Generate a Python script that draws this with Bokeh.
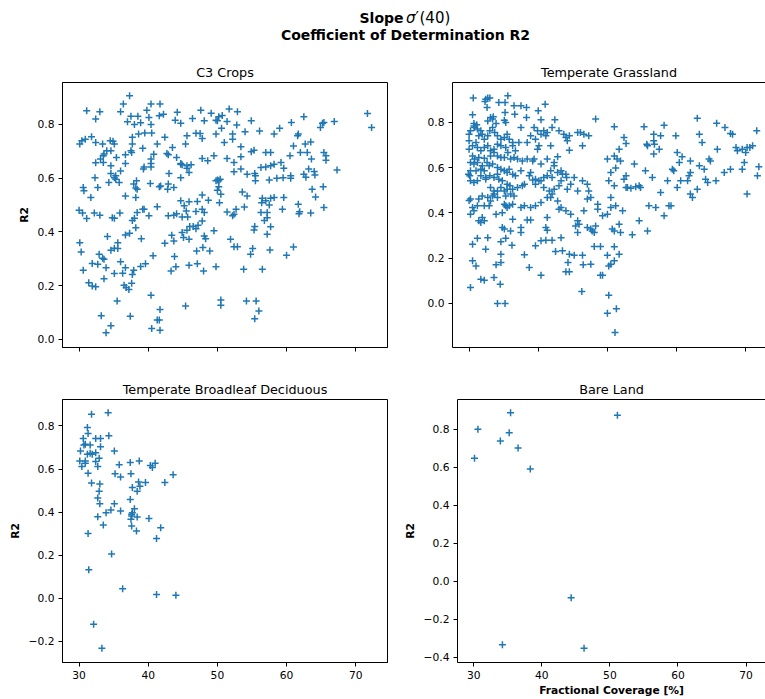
from bokeh.plotting import figure
from bokeh.layouts import column, row
from bokeh.models import Range1d, FixedTicker, CustomJSTickFormatter, LinearAxis
from bokeh.core.properties import value
from bokeh.embed import file_html
from bokeh.resources import INLINE

FONT = "DejaVu Sans"
BLUE = "#1f77b4"

# ---------------- data ----------------
x_ticks = [30, 40, 50, 60, 70]
y_ticks_c3 = [0.0, 0.2, 0.4, 0.6, 0.8]
y_ticks_grass = [0.0, 0.2, 0.4, 0.6, 0.8]
y_ticks_broad = [-0.2, 0.0, 0.2, 0.4, 0.6, 0.8]
y_ticks_bare = [-0.4, -0.2, 0.0, 0.2, 0.4, 0.6, 0.8]

panel_titles = ["C3 Crops", "Temperate Grassland", "Temperate Broadleaf Deciduous", "Bare Land"]

c3_points = [
    (37.3, 0.907), (36.4, 0.876), (40.4, 0.876), (41.7, 0.876), (31.1, 0.851), (33.0, 0.847), (36.0, 0.847),
    (32.4, 0.82), (37.5, 0.83), (38.5, 0.83), (37.0, 0.81), (38.0, 0.80), (38.9, 0.806), (39.8, 0.853),
    (40.1, 0.826), (40.4, 0.80), (41.6, 0.832), (42.2, 0.838), (44.2, 0.845), (43.9, 0.816), (44.7, 0.804),
    (46.4, 0.822), (47.6, 0.853), (48.1, 0.814), (49.1, 0.842), (49.8, 0.816), (50.2, 0.829), (50.7, 0.833),
    (50.0, 0.814), (51.7, 0.857), (52.9, 0.847), (51.4, 0.811), (52.8, 0.798), (50.6, 0.786), (54.9, 0.814),
    (56.1, 0.776), (54.0, 0.773), (49.8, 0.764), (52.2, 0.764), (52.2, 0.745), (51.0, 0.733), (46.9, 0.767),
    (47.5, 0.766), (47.8, 0.748), (45.6, 0.758), (45.4, 0.727), (43.5, 0.714), (42.4, 0.752), (41.3, 0.727),
    (40.5, 0.768), (39.5, 0.768), (38.6, 0.764), (37.7, 0.752), (37.7, 0.727), (37.5, 0.702), (34.9, 0.737),
    (34.5, 0.739), (35.1, 0.727), (33.4, 0.727), (32.4, 0.733), (31.8, 0.754), (30.1, 0.727), (30.4, 0.739),
    (30.9, 0.745), (34.0, 0.702), (34.6, 0.702), (33.5, 0.683), (33.6, 0.690), (33.1, 0.671), (32.4, 0.657),
    (33.5, 0.658), (35.4, 0.677), (36.7, 0.687), (37.6, 0.696), (36.7, 0.655), (39.2, 0.711), (40.8, 0.689),
    (40.4, 0.671), (40.4, 0.655), (42.7, 0.692), (42.9, 0.687), (44.1, 0.677), (44.7, 0.655), (44.9, 0.65),
    (45.6, 0.637), (45.9, 0.621), (47.8, 0.673), (48.6, 0.665), (49.5, 0.683), (51.4, 0.673), (52.4, 0.658),
    (53.4, 0.68), (53.4, 0.717), (54.9, 0.698), (55.3, 0.704), (57.0, 0.696), (57.7, 0.696), (52.4, 0.624),
    (53.4, 0.634), (54.3, 0.615), (55.4, 0.617), (55.5, 0.609), (55.5, 0.59), (56.3, 0.64), (57.0, 0.642),
    (57.7, 0.646), (58.2, 0.652), (59.2, 0.658), (59.6, 0.637), (57.5, 0.593), (58.6, 0.60), (59.5, 0.602),
    (60.6, 0.60), (60.6, 0.609), (60.5, 0.683), (61.0, 0.72), (61.6, 0.758), (61.7, 0.764), (62.0, 0.696),
    (63.0, 0.696), (62.7, 0.727), (63.5, 0.735), (62.5, 0.829), (60.7, 0.807), (59.0, 0.786), (58.2, 0.764),
    (63.6, 0.671), (63.2, 0.634), (62.5, 0.615), (62.8, 0.603), (64.0, 0.625), (64.1, 0.612), (65.4, 0.696),
    (65.7, 0.683), (65.7, 0.667), (67.3, 0.63), (65.2, 0.804), (65.4, 0.807), (64.9, 0.789), (66.9, 0.811),
    (71.7, 0.841), (72.3, 0.789), (56.5, 0.525), (56.4, 0.509), (57.0, 0.516), (57.7, 0.525), (58.2, 0.528),
    (57.5, 0.50), (59.6, 0.528), (59.4, 0.484), (57.2, 0.453), (56.8, 0.443), (57.7, 0.419), (57.2, 0.391),
    (56.3, 0.472), (57.2, 0.472), (53.6, 0.549), (54.3, 0.534), (53.9, 0.493), (52.7, 0.484), (52.4, 0.466),
    (52.2, 0.46), (51.4, 0.474), (50.5, 0.54), (50.2, 0.568), (50.0, 0.555), (50.2, 0.59), (50.0, 0.593),
    (49.8, 0.59), (50.4, 0.596), (50.3, 0.509), (48.7, 0.518), (47.8, 0.537), (47.1, 0.513), (48.1, 0.472),
    (47.8, 0.441), (48.1, 0.385), (48.3, 0.375), (49.5, 0.404), (47.0, 0.329), (47.9, 0.342), (48.9, 0.329),
    (51.9, 0.373), (52.4, 0.345), (52.9, 0.345), (54.8, 0.317), (55.1, 0.338), (57.6, 0.333), (60.0, 0.313),
    (61.0, 0.344), (61.7, 0.503), (61.9, 0.475), (61.8, 0.468), (63.5, 0.47), (63.7, 0.559), (64.2, 0.53),
    (65.3, 0.568), (65.4, 0.491), (55.4, 0.42), (55.3, 0.407), (53.8, 0.261), (56.5, 0.261), (54.2, 0.143),
    (55.6, 0.143), (56.0, 0.106), (55.4, 0.077), (50.5, 0.147), (50.5, 0.127), (45.4, 0.124), (49.8, 0.27),
    (47.1, 0.282), (45.9, 0.276), (48.0, 0.255), (44.0, 0.27), (43.8, 0.309), (43.3, 0.255), (42.4, 0.358),
    (43.4, 0.388), (43.7, 0.366), (44.9, 0.398), (45.1, 0.379), (45.9, 0.373), (46.0, 0.42), (46.5, 0.42),
    (46.9, 0.412), (45.6, 0.406), (47.2, 0.425), (45.7, 0.456), (44.9, 0.456), (44.1, 0.468), (43.7, 0.462),
    (42.9, 0.46), (44.7, 0.516), (45.2, 0.497), (45.5, 0.478), (45.9, 0.512), (46.9, 0.476), (47.8, 0.484),
    (41.3, 0.494), (40.1, 0.46), (39.2, 0.484), (37.7, 0.443), (38.0, 0.451), (38.4, 0.472), (38.2, 0.416),
    (36.7, 0.389), (37.3, 0.395), (39.0, 0.375), (40.7, 0.311), (40.4, 0.164), (41.7, 0.111), (41.3, 0.072),
    (41.6, 0.072), (40.5, 0.041), (41.7, 0.034), (37.4, 0.086), (35.5, 0.143), (33.2, 0.088), (34.6, 0.051),
    (33.9, 0.025), (36.8, 0.193), (37.6, 0.209), (37.2, 0.186), (36.5, 0.202), (33.6, 0.226), (35.1, 0.245),
    (36.3, 0.246), (37.7, 0.242), (37.9, 0.257), (38.9, 0.271), (39.6, 0.282), (36.0, 0.289), (36.7, 0.267),
    (34.6, 0.332), (35.1, 0.339), (35.6, 0.36), (35.6, 0.338), (34.1, 0.383), (32.9, 0.317), (33.4, 0.302),
    (33.6, 0.298), (32.7, 0.28), (31.9, 0.283), (33.9, 0.267), (30.6, 0.257), (31.4, 0.211), (31.9, 0.199),
    (32.4, 0.196), (30.1, 0.36), (30.3, 0.325), (30.0, 0.481), (30.5, 0.47), (31.1, 0.45), (32.2, 0.47),
    (33.0, 0.462), (34.8, 0.453), (35.1, 0.451), (35.9, 0.47), (30.6, 0.565), (30.7, 0.553), (31.7, 0.528),
    (32.7, 0.565), (32.3, 0.602), (34.3, 0.584), (35.1, 0.602), (35.3, 0.609), (35.8, 0.584), (35.3, 0.596),
    (34.6, 0.646), (34.6, 0.617), (36.0, 0.627), (37.9, 0.578), (38.2, 0.563), (38.4, 0.559), (38.3, 0.59),
    (36.7, 0.534), (38.2, 0.528), (39.4, 0.484), (40.3, 0.58), (41.6, 0.568), (41.8, 0.571), (42.8, 0.559),
    (43.7, 0.565), (42.9, 0.578), (43.0, 0.617), (39.3, 0.634), (39.4, 0.642), (40.4, 0.642), (44.7, 0.652),
    (45.6, 0.646), (44.7, 0.602), (46.2, 0.65),
]

grass_points = [
    (30.6, 0.908), (32.4, 0.903), (32.7, 0.908), (33.0, 0.908), (32.3, 0.893), (34.3, 0.889), (35.2, 0.889),
    (35.6, 0.918), (32.6, 0.866), (36.5, 0.874), (37.5, 0.874), (38.3, 0.866), (35.2, 0.844), (36.6, 0.837),
    (41.0, 0.881), (40.0, 0.852), (30.5, 0.834), (30.7, 0.796), (31.1, 0.79), (30.7, 0.785), (33.1, 0.822),
    (33.5, 0.825), (33.4, 0.815), (32.7, 0.807), (33.9, 0.796), (35.1, 0.81), (35.3, 0.80), (38.3, 0.822),
    (40.4, 0.812), (42.4, 0.812), (48.3, 0.815), (51.0, 0.781), (55.3, 0.781), (58.2, 0.788), (63.0, 0.819),
    (65.8, 0.797), (67.0, 0.778), (67.8, 0.751), (71.6, 0.763), (30.0, 0.748), (30.2, 0.763), (30.8, 0.778),
    (31.2, 0.771), (31.7, 0.763), (31.9, 0.748), (31.4, 0.741), (32.2, 0.726), (32.7, 0.741), (33.0, 0.763),
    (33.4, 0.778), (33.7, 0.756), (34.1, 0.741), (34.6, 0.726), (35.1, 0.734), (35.5, 0.748), (35.8, 0.726),
    (36.3, 0.711), (30.0, 0.719), (30.0, 0.682), (30.5, 0.697), (31.0, 0.711), (31.2, 0.689), (31.7, 0.675),
    (32.2, 0.689), (32.7, 0.697), (33.1, 0.675), (33.6, 0.682), (34.1, 0.704), (34.6, 0.697), (35.3, 0.689),
    (35.6, 0.667), (36.3, 0.697), (36.7, 0.675), (37.2, 0.711), (37.5, 0.778), (38.4, 0.711), (38.9, 0.741),
    (39.4, 0.778), (39.9, 0.763), (39.6, 0.726), (40.4, 0.748), (40.8, 0.763), (41.3, 0.756), (41.1, 0.741),
    (42.0, 0.778), (43.0, 0.763), (43.7, 0.748), (44.0, 0.734), (44.2, 0.719), (44.5, 0.741), (45.7, 0.756),
    (46.1, 0.756), (47.3, 0.741), (46.6, 0.748), (44.5, 0.677), (46.4, 0.697), (41.8, 0.697), (42.8, 0.648),
    (42.3, 0.623), (41.3, 0.638), (40.1, 0.697), (39.9, 0.682), (39.2, 0.63), (39.4, 0.638), (40.4, 0.616),
    (38.4, 0.638), (37.7, 0.63), (37.0, 0.638), (36.5, 0.645), (36.0, 0.638), (35.1, 0.645), (34.6, 0.645),
    (34.1, 0.652), (33.6, 0.667), (33.1, 0.652), (32.2, 0.642), (31.4, 0.645), (30.8, 0.638), (30.5, 0.652),
    (30.2, 0.623), (30.7, 0.616), (31.2, 0.623), (31.9, 0.608), (32.6, 0.623), (32.9, 0.608), (33.4, 0.616),
    (34.1, 0.601), (34.6, 0.593), (35.1, 0.586), (35.5, 0.579), (35.8, 0.593), (36.3, 0.571), (36.7, 0.564),
    (37.5, 0.586), (38.7, 0.564), (38.9, 0.579), (39.6, 0.549), (40.1, 0.542), (40.8, 0.556), (41.3, 0.564),
    (41.8, 0.586), (42.0, 0.556), (42.3, 0.608), (42.8, 0.579), (43.3, 0.586), (43.5, 0.571), (44.0, 0.571),
    (44.1, 0.556), (43.3, 0.542), (43.0, 0.52), (42.3, 0.505), (41.6, 0.497), (40.8, 0.512), (40.4, 0.542),
    (39.2, 0.545), (39.6, 0.527), (38.0, 0.527), (37.7, 0.52), (37.0, 0.512), (36.3, 0.505), (35.9, 0.52),
    (35.5, 0.527), (34.8, 0.542), (34.3, 0.549), (34.1, 0.571), (33.6, 0.556), (33.0, 0.564), (32.4, 0.556),
    (31.7, 0.564), (31.2, 0.542), (30.7, 0.534), (30.1, 0.564), (29.9, 0.571), (30.2, 0.586), (31.0, 0.586),
    (31.7, 0.593), (32.2, 0.586), (32.4, 0.549), (30.2, 0.542), (33.1, 0.512), (33.6, 0.497), (34.1, 0.497),
    (34.6, 0.512), (35.1, 0.497), (35.5, 0.505), (36.0, 0.483), (36.5, 0.475), (35.3, 0.475), (34.1, 0.468),
    (33.4, 0.475), (32.7, 0.468), (31.9, 0.475), (31.4, 0.461), (30.2, 0.461), (30.0, 0.455), (30.5, 0.424),
    (30.7, 0.409), (30.2, 0.394), (31.2, 0.431), (32.2, 0.431), (32.9, 0.431), (33.1, 0.453), (33.6, 0.483),
    (35.1, 0.438), (35.3, 0.431), (35.8, 0.431), (36.3, 0.438), (33.9, 0.394), (34.8, 0.401), (35.5, 0.424),
    (31.9, 0.379), (31.4, 0.365), (32.2, 0.365), (31.7, 0.357), (34.8, 0.335), (35.1, 0.328), (36.0, 0.32),
    (36.3, 0.372), (37.5, 0.424), (38.0, 0.431), (38.9, 0.424), (39.6, 0.431), (40.4, 0.446), (41.3, 0.468),
    (41.8, 0.468), (42.0, 0.483), (42.8, 0.453), (43.0, 0.416), (43.3, 0.424), (44.0, 0.409), (44.2, 0.505),
    (44.7, 0.527), (45.2, 0.556), (45.7, 0.497), (46.4, 0.542), (47.1, 0.527), (47.3, 0.497), (47.1, 0.461),
    (47.6, 0.468), (48.6, 0.438), (48.6, 0.416), (46.6, 0.409), (44.7, 0.394), (45.7, 0.365), (45.9, 0.35),
    (45.4, 0.342), (45.7, 0.313), (47.1, 0.335), (47.6, 0.328), (47.8, 0.32), (48.1, 0.313), (48.3, 0.342),
    (49.3, 0.387), (50.0, 0.394), (50.7, 0.328), (51.0, 0.32), (51.7, 0.35), (51.9, 0.313), (50.5, 0.424),
    (51.2, 0.431), (52.2, 0.409), (50.5, 0.468), (51.0, 0.52), (50.5, 0.579), (50.2, 0.542), (50.0, 0.638),
    (51.0, 0.652), (51.4, 0.638), (51.9, 0.63), (51.7, 0.682), (52.4, 0.734), (52.7, 0.707), (53.9, 0.616),
    (55.5, 0.586), (56.5, 0.556), (55.8, 0.697), (56.7, 0.748), (56.7, 0.719), (57.7, 0.741), (56.7, 0.66),
    (57.5, 0.682), (58.7, 0.542), (57.7, 0.49), (58.9, 0.431), (59.2, 0.431), (58.2, 0.387), (56.0, 0.431),
    (57.0, 0.424), (54.6, 0.365), (53.6, 0.303), (55.8, 0.32), (52.7, 0.564), (52.7, 0.512), (52.9, 0.512),
    (53.4, 0.509), (54.1, 0.515), (54.6, 0.52), (54.8, 0.512), (52.4, 0.549), (51.2, 0.598), (59.9, 0.741),
    (60.1, 0.667), (60.4, 0.623), (60.8, 0.648), (62.0, 0.63), (59.4, 0.593), (59.6, 0.586), (60.1, 0.512),
    (60.6, 0.542), (61.6, 0.542), (61.8, 0.564), (62.0, 0.579), (62.0, 0.483), (62.3, 0.468), (63.0, 0.505),
    (63.3, 0.608), (64.0, 0.593), (64.2, 0.549), (64.5, 0.534), (64.7, 0.638), (64.9, 0.63), (65.7, 0.542),
    (65.9, 0.682), (66.9, 0.579), (67.8, 0.593), (68.1, 0.748), (68.6, 0.689), (68.8, 0.675), (69.5, 0.682),
    (70.0, 0.667), (70.2, 0.689), (70.6, 0.689), (71.0, 0.697), (69.8, 0.623), (69.5, 0.593), (70.2, 0.483),
    (71.7, 0.564), (71.9, 0.604), (63.3, 0.748), (63.7, 0.711), (55.7, 0.704), (56.8, 0.704), (30.5, 0.261),
    (31.2, 0.288), (32.7, 0.29), (32.4, 0.239), (34.6, 0.272), (35.3, 0.288), (36.2, 0.257), (30.5, 0.188),
    (31.0, 0.165), (30.2, 0.07), (31.7, 0.106), (32.2, 0.102), (33.6, 0.114), (33.9, 0.17), (34.6, 0.18),
    (34.6, 0.217), (34.5, 0.084), (34.1, -0.001), (35.2, -0.001), (37.5, 0.335), (37.5, 0.313), (38.4, 0.368),
    (38.9, 0.368), (38.0, 0.214), (38.7, 0.158), (39.6, 0.254), (40.4, 0.276), (41.1, 0.279), (40.4, 0.124),
    (41.1, 0.335), (41.3, 0.323), (41.3, 0.379), (42.0, 0.279), (42.5, 0.229), (43.3, 0.29), (43.5, 0.232),
    (44.5, 0.217), (44.3, 0.18), (44.0, 0.139), (44.5, 0.139), (45.2, 0.212), (46.4, 0.212), (46.5, 0.17),
    (47.6, 0.172), (46.3, 0.052), (48.1, 0.251), (49.0, 0.251), (49.3, 0.124), (49.0, 0.124), (50.0, 0.212),
    (50.2, 0.165), (51.0, 0.25), (51.0, 0.188), (50.5, 0.172), (51.7, 0.217), (50.2, 0.035), (50.0, -0.044),
    (51.3, -0.024), (51.1, -0.13),
]

broad_points = [
    (31.8, 0.854), (34.2, 0.862), (31.2, 0.793), (31.3, 0.765), (34.3, 0.755), (30.6, 0.742), (32.4, 0.742),
    (33.1, 0.742), (30.7, 0.712), (30.9, 0.715), (31.6, 0.712), (33.1, 0.704), (30.2, 0.684), (35.1, 0.684),
    (31.2, 0.669), (31.6, 0.673), (31.9, 0.669), (32.4, 0.676), (32.9, 0.65), (30.1, 0.638), (30.9, 0.638),
    (30.9, 0.627), (32.4, 0.635), (30.4, 0.612), (32.7, 0.612), (31.3, 0.581), (31.8, 0.535), (33.0, 0.531),
    (35.8, 0.62), (37.4, 0.63), (38.7, 0.638), (40.3, 0.617), (40.6, 0.607), (41.0, 0.627), (35.2, 0.578),
    (36.0, 0.563), (37.5, 0.578), (38.6, 0.54), (39.6, 0.538), (38.8, 0.52), (38.4, 0.497), (37.7, 0.515),
    (43.6, 0.574), (42.4, 0.538), (32.9, 0.497), (32.7, 0.466), (33.0, 0.439), (35.1, 0.439), (34.6, 0.41),
    (33.9, 0.397), (32.7, 0.379), (33.5, 0.34), (36.0, 0.405), (37.4, 0.459), (38.0, 0.416), (37.7, 0.397),
    (37.6, 0.39), (37.6, 0.382), (37.5, 0.367), (37.6, 0.336), (38.4, 0.377), (38.3, 0.313), (40.1, 0.371),
    (41.8, 0.328), (41.2, 0.278), (31.3, 0.301), (34.7, 0.206), (31.4, 0.133), (36.3, 0.044), (41.2, 0.018),
    (44.0, 0.014), (32.1, -0.12), (33.3, -0.232),
]

bare_points = [
    (30.1, 0.648), (30.6, 0.801), (33.9, 0.739), (35.4, 0.888), (35.2, 0.782), (36.5, 0.702), (38.3, 0.592),
    (51.1, 0.875), (44.3, -0.087), (34.2, -0.336), (46.2, -0.354),
]

# ---------------- layout constants ----------------
X_START, X_END_FULL = 27.6, 74.6
FRAME_W_LEFT = 325
FRAME_W_RIGHT = 313  # right column is clipped by the window edge
X_END_RIGHT = X_START + (X_END_FULL - X_START) * FRAME_W_RIGHT / FRAME_W_LEFT

TICK_FMT = CustomJSTickFormatter(code="""
    const v = Math.abs(tick) < 1e-9 ? 0 : tick;
    return v.toFixed(1).replace('-', '\u2212');
""")
EMPTY_FMT = CustomJSTickFormatter(code="return '';")


def style_axis(ax):
    ax.axis_line_color = "black"
    ax.major_tick_line_color = "black"
    ax.major_tick_out = 4
    ax.major_tick_in = 0
    ax.minor_tick_out = 0
    ax.minor_tick_in = 0
    ax.major_label_text_font = FONT
    ax.major_label_text_font_size = "10.7px"
    ax.major_label_text_color = "black"
    ax.major_label_standoff = 4
    ax.axis_label_text_font = FONT
    ax.axis_label_text_font_size = "10.7px"
    ax.axis_label_text_font_style = "bold"
    ax.axis_label_text_color = "black"


def make_panel(title, points, y_range, y_ticks, x_end, width, height,
               left, right, top, bottom, xlabels, xlabel, ylabel, clipped):
    xs = [p[0] for p in points]
    ys = [p[1] for p in points]
    p = figure(width=width, height=height, title=title,
               x_range=Range1d(X_START, x_end), y_range=Range1d(*y_range),
               output_backend="svg", toolbar_location=None,
               min_border_left=left, min_border_right=right,
               min_border_top=top, min_border_bottom=bottom)
    p.scatter(xs, ys, marker="cross", size=7, line_width=1.5, line_color=BLUE)
    p.grid.visible = False
    p.background_fill_color = "white"
    p.border_fill_color = "white"

    xax = p.below[0]
    yax = p.left[0]
    style_axis(xax)
    style_axis(yax)

    if clipped:
        # the right edge of this frame lies outside the picture: draw only left/bottom/top
        p.outline_line_color = None
        top_ax = LinearAxis(ticker=FixedTicker(ticks=[]), formatter=EMPTY_FMT,
                            major_label_text_font_size="0px", major_tick_out=0, major_tick_in=0,
                            minor_tick_out=0, minor_tick_in=0, major_label_standoff=0,
                            axis_line_color="black")
        p.add_layout(top_ax, "above")
    else:
        p.outline_line_color = "black"
        p.outline_line_width = 1
        p.outline_line_alpha = 1.0

    p.title.align = "center"
    p.title.text_font = FONT
    p.title.text_font_size = "12.8px"
    p.title.text_font_style = "normal"
    p.title.text_color = "black"
    p.title.standoff = 5

    xax.ticker = FixedTicker(ticks=x_ticks)
    xax.formatter = CustomJSTickFormatter(code="return tick.toFixed(0);") if xlabels else EMPTY_FMT
    if xlabel:
        xax.axis_label = xlabel
        xax.axis_label_standoff = 2
    yax.ticker = FixedTicker(ticks=y_ticks)
    yax.formatter = TICK_FMT
    if ylabel:
        yax.axis_label = ylabel
        yax.axis_label_standoff = 4
    return p


# title strip: "Slope σ′(40)" (σ′(40) set as math) and the second line
t = figure(width=765, height=50, x_range=Range1d(0, 765), y_range=Range1d(50, 0),
           output_backend="svg", toolbar_location=None, x_axis_type=None, y_axis_type=None,
           min_border=0, outline_line_color=None)
t.grid.visible = False


def ttext(x, y, s, style, size="14px", align="left", baseline="alphabetic"):
    t.text(x=[x], y=[y], text=[s], text_font=value(FONT), text_font_size=size,
           text_font_style=style, text_align=align, text_baseline=baseline, text_color="black")


ttext(359, 17, "Slope", "bold")
ttext(405.5, 17, "\u03c3", "italic", "15px")
ttext(415, 17, "\u2032", "normal", "15px")
ttext(419, 17, "(40)", "normal", "15px")
ttext(405, 34.5, "Coefficient of Determination R2", "bold", "14px", "center", "middle")

TOP_H, BOT_H = 322, 327
LEFT_W = 62 + FRAME_W_LEFT + 13
RIGHT_W = 52 + FRAME_W_RIGHT

tl = make_panel(panel_titles[0], c3_points, (-0.03, 0.956), y_ticks_c3, X_END_FULL,
                LEFT_W, TOP_H, 62, 13, 32, 25, False, None, "R2", False)
tr = make_panel(panel_titles[1], grass_points, (-0.196, 0.977), y_ticks_grass, X_END_RIGHT,
                RIGHT_W, TOP_H, 52, 0, 32, 25, False, None, None, True)
bl = make_panel(panel_titles[2], broad_points, (-0.298, 0.923), y_ticks_broad, X_END_FULL,
                LEFT_W, BOT_H, 62, 13, 27, 35, True, None, "R2", False)
br = make_panel(panel_titles[3], bare_points, (-0.429, 0.958), y_ticks_bare, X_END_RIGHT,
                RIGHT_W, BOT_H, 52, 0, 27, 35, True, "Fractional Coverage [%]", "R2", True)

layout = column(t, row(tl, tr), row(bl, br))

with open("out.html", "w") as f:
    f.write(file_html(layout, INLINE))
